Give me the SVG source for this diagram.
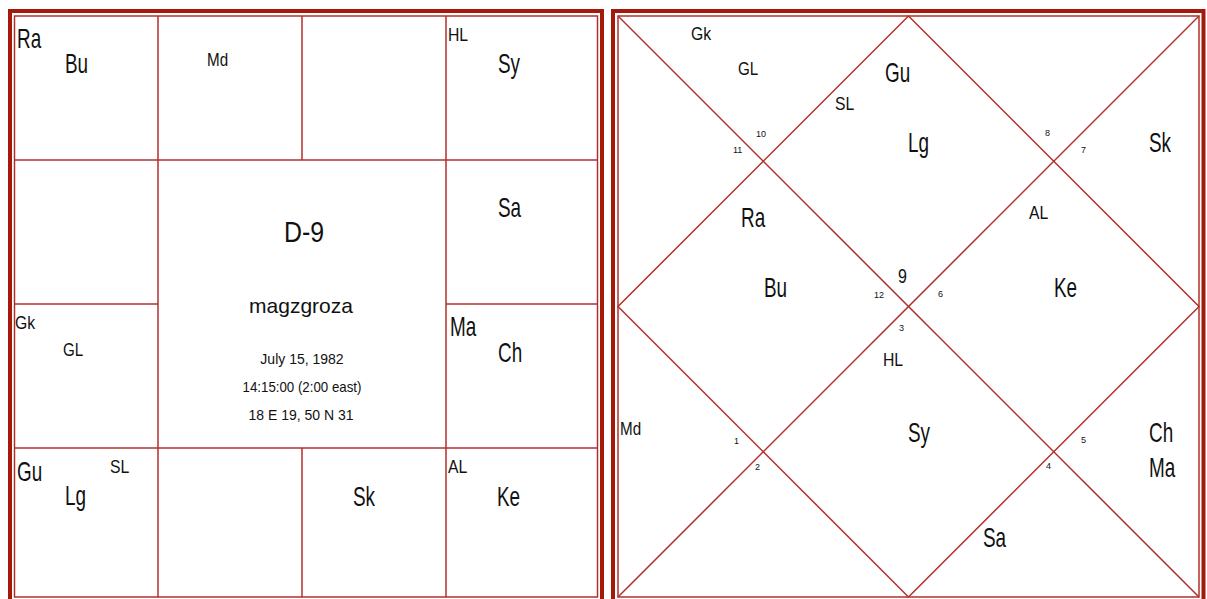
<svg xmlns="http://www.w3.org/2000/svg" width="1207" height="599" viewBox="0 0 1207 599">
<style>
.thick{fill:none;stroke:#a3190c;stroke-width:4}
.thin{fill:none;stroke:#b2302a;stroke-width:1.5}
.ln{stroke:#b2302a;stroke-width:1.5;fill:none}
text{font-family:"Liberation Sans",Arial,sans-serif;fill:#111}
.b{font-size:27px}
.s{font-size:19px}
.n{font-size:9px}
.c{text-anchor:middle}
</style>
<rect width="1207" height="599" fill="#fff"/>

<g id="south-chart">
  <g id="south-frame">
    <rect class="thick" x="10" y="11" width="592" height="594"/>
    <rect class="thin" x="14.5" y="16" width="583" height="581"/>
  </g>
  <g id="south-grid">
    <line class="ln" x1="158" y1="16" x2="158" y2="597"/>
    <line class="ln" x1="446" y1="16" x2="446" y2="597"/>
    <line class="ln" x1="302" y1="16" x2="302" y2="160"/>
    <line class="ln" x1="302" y1="448" x2="302" y2="597"/>
    <line class="ln" x1="14" y1="160" x2="597" y2="160"/>
    <line class="ln" x1="14" y1="448" x2="597" y2="448"/>
    <line class="ln" x1="14" y1="304" x2="158" y2="304"/>
    <line class="ln" x1="446" y1="304" x2="597" y2="304"/>
  </g>
  <g id="s-cell-pisces">
    <text class="b" transform="translate(17 48) scale(.7 1)">Ra</text>
    <text class="b" transform="translate(65 73) scale(.7 1)">Bu</text>
  </g>
  <g id="s-cell-aries">
    <text class="s" transform="translate(207 66) scale(.8 1)">Md</text>
  </g>
  <g id="s-cell-gemini">
    <text class="s" transform="translate(448 41) scale(.83 1)">HL</text>
    <text class="b" transform="translate(498 73) scale(.7 1)">Sy</text>
  </g>
  <g id="s-cell-cancer">
    <text class="b" transform="translate(498 217) scale(.7 1)">Sa</text>
  </g>
  <g id="s-cell-leo">
    <text class="b" transform="translate(450 336) scale(.7 1)">Ma</text>
    <text class="b" transform="translate(498 362) scale(.7 1)">Ch</text>
  </g>
  <g id="s-cell-virgo">
    <text class="s" transform="translate(448 473) scale(.83 1)">AL</text>
    <text class="b" transform="translate(497 506) scale(.7 1)">Ke</text>
  </g>
  <g id="s-cell-scorpio">
    <text class="b" transform="translate(353 506) scale(.7 1)">Sk</text>
  </g>
  <g id="s-cell-sagittarius">
    <text class="b" transform="translate(17 481) scale(.7 1)">Gu</text>
    <text class="s" transform="translate(110 473) scale(.83 1)">SL</text>
    <text class="b" transform="translate(65 505) scale(.7 1)">Lg</text>
  </g>
  <g id="s-cell-aquarius">
    <text class="s" transform="translate(15 329) scale(.83 1)">Gk</text>
    <text class="s" transform="translate(63 356) scale(.8 1)">GL</text>
  </g>
  <g id="s-center">
    <text class="c" style="font-size:30px" transform="translate(304 242) scale(.83 1)">D-9</text>
    <text class="c" style="font-size:21px" x="301" y="313">magzgroza</text>
    <text class="c" style="font-size:14px" x="302" y="364">July 15, 1982</text>
    <text class="c" style="font-size:14px" transform="translate(302 392) scale(.95 1)">14:15:00 (2:00 east)</text>
    <text class="c" style="font-size:14px" x="301" y="420">18 E 19, 50 N 31</text>
  </g>
</g>

<g id="north-chart">
  <g id="north-frame">
    <rect class="thick" x="613" y="11" width="590.5" height="594"/>
    <rect class="thin" x="618" y="16" width="581" height="581"/>
  </g>
  <g id="connectors">
    <line class="ln" x1="618" y1="16" x2="1199" y2="597"/>
    <line class="ln" x1="1199" y1="16" x2="618" y2="597"/>
    <polygon class="ln" points="908.5,16 1199,306.5 908.5,597 618,306.5"/>
  </g>
  <g id="n-house-1">
    <text class="b" transform="translate(885 82) scale(.7 1)">Gu</text>
    <text class="b" transform="translate(908 152) scale(.7 1)">Lg</text>
    <text class="s" transform="translate(835 110) scale(.83 1)">SL</text>
    <text class="s" transform="translate(898 283) scale(.8 1)" style="font-size:20px">9</text>
  </g>
  <g id="n-house-2">
    <text class="s" transform="translate(691 40) scale(.83 1)">Gk</text>
    <text class="s" transform="translate(738 75) scale(.8 1)">GL</text>
    <text class="n" x="756" y="137">10</text>
  </g>
  <g id="n-house-3">
    <text class="n" x="733" y="153">11</text>
  </g>
  <g id="n-house-4">
    <text class="b" transform="translate(741 227) scale(.7 1)">Ra</text>
    <text class="b" transform="translate(764 297) scale(.7 1)">Bu</text>
    <text class="n" x="874" y="298">12</text>
  </g>
  <g id="n-house-5">
    <text class="s" transform="translate(620 435) scale(.8 1)">Md</text>
    <text class="n" x="734" y="444">1</text>
  </g>
  <g id="n-house-6">
    <text class="n" x="755" y="470">2</text>
  </g>
  <g id="n-house-7">
    <text class="s" transform="translate(883 366) scale(.83 1)">HL</text>
    <text class="b" transform="translate(908 442) scale(.7 1)">Sy</text>
    <text class="n" x="899" y="331">3</text>
  </g>
  <g id="n-house-8">
    <text class="b" transform="translate(983 547) scale(.7 1)">Sa</text>
    <text class="n" x="1046" y="469">4</text>
  </g>
  <g id="n-house-9">
    <text class="b" transform="translate(1149 442) scale(.7 1)">Ch</text>
    <text class="b" transform="translate(1149 477) scale(.7 1)">Ma</text>
    <text class="n" x="1081" y="443">5</text>
  </g>
  <g id="n-house-10">
    <text class="s" transform="translate(1029 219) scale(.83 1)">AL</text>
    <text class="b" transform="translate(1054 297) scale(.7 1)">Ke</text>
    <text class="n" x="938" y="297">6</text>
  </g>
  <g id="n-house-11">
    <text class="b" transform="translate(1149 152) scale(.7 1)">Sk</text>
    <text class="n" x="1081" y="153">7</text>
  </g>
  <g id="n-house-12">
    <text class="n" x="1045" y="136">8</text>
  </g>
</g>
</svg>
